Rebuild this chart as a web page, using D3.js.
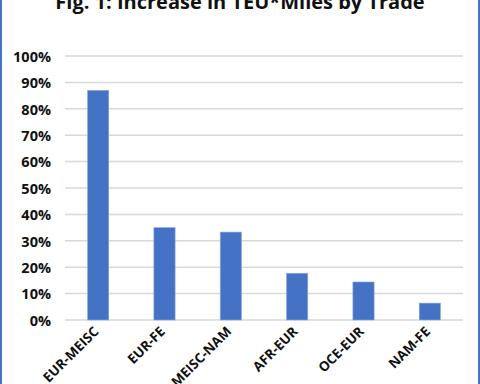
<!DOCTYPE html>
<html><head><meta charset="utf-8">
<script src="https://cdn.jsdelivr.net/npm/d3@7"></script>
<style>
html,body{margin:0;padding:0;background:#fff;overflow:hidden}
svg{display:block}
text{font-family:"Open Sans","Noto Sans",sans-serif;font-weight:bold;fill:#111}
</style></head>
<body>
<script>
const categories = ["EUR-MEISC","EUR-FE","MEISC-NAM","AFR-EUR","OCE-EUR","NAM-FE"];
const values = [0.87, 0.35, 0.333, 0.177, 0.144, 0.064];
const yTicks = [0,0.1,0.2,0.3,0.4,0.5,0.6,0.7,0.8,0.9,1.0];
const title = "Fig. 1: Increase in TEU*Miles by Trade";

(function(){
const W = 480, H = 384;
const svg = d3.select("body").append("svg").attr("width", W).attr("height", H);

svg.append("rect").attr("x", 1).attr("y", -20).attr("width", W - 2).attr("height", H + 40)
  .attr("fill", "#fff").attr("stroke", "#4472C4").attr("stroke-width", 2);

const mL = 65, mR = 463, mT = 56, mB = 320;
const x = d3.scaleBand().domain(categories).range([mL, mR]).paddingInner(0.68).paddingOuter(0.34);
const y = d3.scaleLinear().domain([0, 1]).range([mB, mT]);

svg.append("g").selectAll("line").data(yTicks).join("line")
  .attr("x1", mL).attr("x2", mR)
  .attr("y1", d => y(d)).attr("y2", d => y(d))
  .attr("stroke", "#d9d9d9").attr("stroke-width", 1.5);

const yAxis = d3.axisLeft(y).tickValues(yTicks).tickFormat(d3.format(".0%")).tickSize(0).tickPadding(0);
const gy = svg.append("g").attr("transform", `translate(51,0)`).call(yAxis);
gy.select(".domain").remove();
gy.selectAll("text").attr("font-size", 14.5).attr("dy", "0.36em").style("fill", "#111")
  .style("font-family", '"Open Sans","Noto Sans",sans-serif').style("font-weight", "bold");

svg.append("g").selectAll("rect").data(values).join("rect")
  .attr("x", (d, i) => x(categories[i]))
  .attr("width", x.bandwidth())
  .attr("y", d => y(d))
  .attr("height", d => y(0) - y(d))
  .attr("fill", "#4472C4")
  .attr("stroke", "#8faadc").attr("stroke-width", 0.6);

const xAxis = d3.axisBottom(x).tickSize(0).tickPadding(0);
const gx = svg.append("g").attr("transform", `translate(0,${mB})`).call(xAxis);
gx.select(".domain").remove();
gx.selectAll("text")
  .attr("font-size", 13.5)
  .attr("text-anchor", "end")
  .attr("dy", "0.35em")
  .attr("y", 0)
  .attr("transform", "translate(-2,9) rotate(-45)")
  .style("fill", "#111")
  .style("font-family", '"Open Sans","Noto Sans",sans-serif').style("font-weight", "bold");

svg.append("text").attr("x", 240).attr("y", 9).attr("text-anchor", "middle")
  .attr("font-size", 20).text(title);
})();
</script>
</body></html>
